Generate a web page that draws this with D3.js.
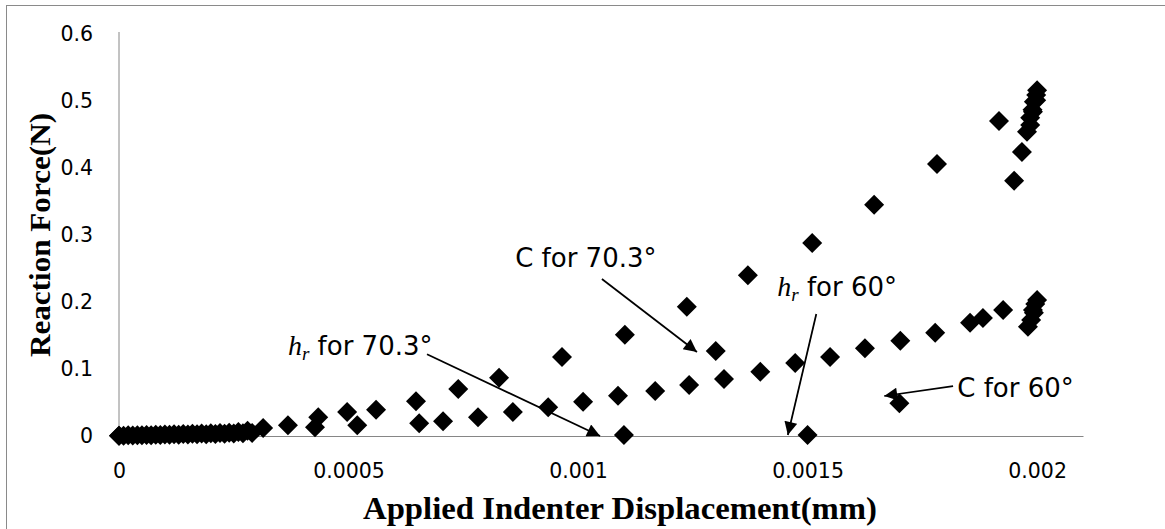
<!DOCTYPE html>
<html>
<head>
<meta charset="utf-8">
<script src="https://cdn.jsdelivr.net/npm/d3@7"></script>
<style>
  html, body { margin: 0; padding: 0; background: #fff; }
  svg { display: block; }
</style>
</head>
<body>
<svg id="chart" width="1165" height="529"></svg>
<script>
// ---------- data ----------
const xTickValues = [0, 0.0005, 0.001, 0.0015, 0.002];
const xTickLabels = ["0", "0.0005", "0.001", "0.0015", "0.002"];
const yTickValues = [0, 0.1, 0.2, 0.3, 0.4, 0.5, 0.6];
const yTickLabels = ["0", "0.1", "0.2", "0.3", "0.4", "0.5", "0.6"];

// Series: 70.3° indenter (displacement mm, force N)
const disp703 = [0, 0.00002, 0.00004, 0.00006, 0.00008, 0.0001, 0.00012, 0.00014, 0.00016, 0.00018, 0.0002, 0.00022, 0.00024, 0.00026, 0.00028, 0.000314,
  0.000368, 0.000434, 0.000497, 0.00056, 0.000647, 0.000739, 0.000828, 0.000965, 0.001102, 0.001237, 0.00137, 0.00151, 0.001645, 0.001782, 0.001917,
  0.001985, 0.00199, 0.001993, 0.001998, 0.002,
  0.001998, 0.001991, 0.001985, 0.001978, 0.001967, 0.00195, 0.0013, 0.0011];
const force703 = [0.0005, 0.001, 0.0012, 0.0015, 0.002, 0.0022, 0.0025, 0.003, 0.0033, 0.0037, 0.004, 0.0045, 0.005, 0.006, 0.008, 0.012,
  0.016, 0.028, 0.036, 0.039, 0.052, 0.070, 0.087, 0.118, 0.151, 0.193, 0.24, 0.288, 0.345, 0.406, 0.470,
  0.475, 0.487, 0.499, 0.509, 0.516,
  0.501, 0.484, 0.464, 0.454, 0.424, 0.381, 0.127, 0.0015];

// Series: 60° indenter
const disp60 = [0, 0.00001, 0.00003, 0.00005, 0.00007, 0.00009, 0.00011, 0.00013, 0.00015, 0.00017, 0.00019, 0.00021, 0.00023, 0.00025, 0.00027, 0.00029,
  0.000427, 0.000519, 0.000654, 0.000706, 0.000782, 0.000858, 0.000935, 0.001011, 0.001087, 0.001168, 0.001242, 0.001318, 0.001397, 0.001473,
  0.001549, 0.001625, 0.001702, 0.001778, 0.001854, 0.001882, 0.001926, 0.001991, 0.001996, 0.002,
  0.001993, 0.001987, 0.00198, 0.0017, 0.0015];
const force60 = [0.0003, 0.0005, 0.0008, 0.001, 0.0012, 0.0015, 0.0017, 0.002, 0.0022, 0.0025, 0.0027, 0.003, 0.0033, 0.0036, 0.004, 0.0045,
  0.013, 0.016, 0.019, 0.022, 0.028, 0.036, 0.043, 0.051, 0.060, 0.067, 0.076, 0.085, 0.096, 0.109,
  0.118, 0.131, 0.142, 0.154, 0.169, 0.176, 0.188, 0.188, 0.197, 0.203,
  0.184, 0.173, 0.163, 0.049, 0.0015];

// Annotations (in data coordinates)
const annoLabels = ["h_r for 70.3°", "C for 70.3°", "h_r for 60°", "C for 60°"];
const annoTextX = [0.000368, 0.000863, 0.001434, 0.001826];
const annoTextY = [0.1209, 0.2522, 0.209, 0.0582];
const arrowFromX = [0.000671, 0.001052, 0.001519, 0.001817];
const arrowFromY = [0.122, 0.2343, 0.182, 0.0746];
const arrowToX = [0.001048, 0.001259, 0.001457, 0.001667];
const arrowToY = [0.0, 0.1254, 0.0015, 0.0597];

// ---------- chart ----------
const svg = d3.select("#chart");
const W = 1165, H = 529;

// outer frame
svg.append("rect").attr("x", 6.5).attr("y", 5.5).attr("width", W + 10).attr("height", H + 10)
  .attr("fill", "#fff").attr("stroke", "#8a8a8a").attr("stroke-width", 1);

const x = d3.scaleLinear().domain([0, 0.0021]).range([119, 1083]);
const y = d3.scaleLinear().domain([0, 0.6]).range([436, 34]);

const tickFont = "'DejaVu Sans', Verdana, sans-serif";
const serif = "'Liberation Serif', 'Times New Roman', serif";

// y axis
const yAxis = d3.axisLeft(y).tickValues(yTickValues)
  .tickFormat((d, i) => yTickLabels[i]).tickSize(0).tickPadding(26);
const gy = svg.append("g").attr("transform", "translate(119,0)").call(yAxis);
gy.select(".domain").attr("stroke", "#868686").attr("d", `M0,${y(0)}V32`);
gy.selectAll("text").attr("font-family", tickFont).attr("font-size", 20.5).attr("fill", "#000");

// x axis
const xAxis = d3.axisBottom(x).tickValues(xTickValues)
  .tickFormat((d, i) => xTickLabels[i]).tickSize(0).tickSizeOuter(0).tickPadding(27);
const gx = svg.append("g").attr("transform", `translate(0,${y(0)})`).call(xAxis);
gx.select(".domain").attr("stroke", "#868686");
gx.selectAll("text").attr("font-family", tickFont).attr("font-size", 20.5).attr("fill", "#000");

// axis titles
svg.append("text")
  .attr("x", 620).attr("y", 519)
  .attr("text-anchor", "middle")
  .attr("font-family", serif)
  .attr("font-weight", "bold").attr("font-size", 31)
  .attr("textLength", 514).attr("lengthAdjust", "spacingAndGlyphs")
  .text("Applied Indenter Displacement(mm)");

svg.append("text")
  .attr("transform", "translate(50,235) rotate(-90)")
  .attr("text-anchor", "middle")
  .attr("font-family", serif)
  .attr("font-weight", "bold").attr("font-size", 29)
  .attr("textLength", 244).attr("lengthAdjust", "spacingAndGlyphs")
  .text("Reaction Force(N)");

// points
const diamond = d3.symbol().type(d3.symbolSquare).size(200);
const pts703 = disp703.map((d, i) => ({ x: d, y: force703[i] }));
const pts60 = disp60.map((d, i) => ({ x: d, y: force60[i] }));

[pts703, pts60].forEach((pts, k) => {
  svg.append("g").attr("class", "series-" + k)
    .selectAll("path").data(pts).join("path")
    .attr("d", diamond)
    .attr("transform", d => `translate(${x(d.x)},${y(d.y)}) rotate(45)`)
    .attr("fill", "#000");
});

// arrow marker
const defs = svg.append("defs");
defs.append("marker")
  .attr("id", "arrowhead")
  .attr("viewBox", "0 0 10 10")
  .attr("refX", 10).attr("refY", 5)
  .attr("markerUnits", "userSpaceOnUse")
  .attr("markerWidth", 16).attr("markerHeight", 13)
  .attr("orient", "auto")
  .append("path").attr("d", "M0,0 L10,5 L0,10 Z").attr("fill", "#000");

const annoG = svg.append("g");
annoLabels.forEach((lab, i) => {
  annoG.append("line")
    .attr("x1", x(arrowFromX[i])).attr("y1", y(arrowFromY[i]))
    .attr("x2", x(arrowToX[i])).attr("y2", y(arrowToY[i]))
    .attr("stroke", "#000").attr("stroke-width", 1.75)
    .attr("marker-end", "url(#arrowhead)");

  const t = annoG.append("text")
    .attr("x", x(annoTextX[i])).attr("y", y(annoTextY[i]))
    .attr("font-family", tickFont).attr("font-size", 26).attr("fill", "#000");
  if (lab.startsWith("h_r")) {
    t.append("tspan").attr("font-family", serif)
      .attr("font-style", "italic").attr("font-size", 28).text("h");
    t.append("tspan").attr("font-family", serif)
      .attr("font-style", "italic").attr("font-size", 19).attr("dy", 5).text("r");
    t.append("tspan").attr("dy", -5).text(" " + lab.slice(4));
  } else {
    t.text(lab);
  }
});
</script>
</body>
</html>
